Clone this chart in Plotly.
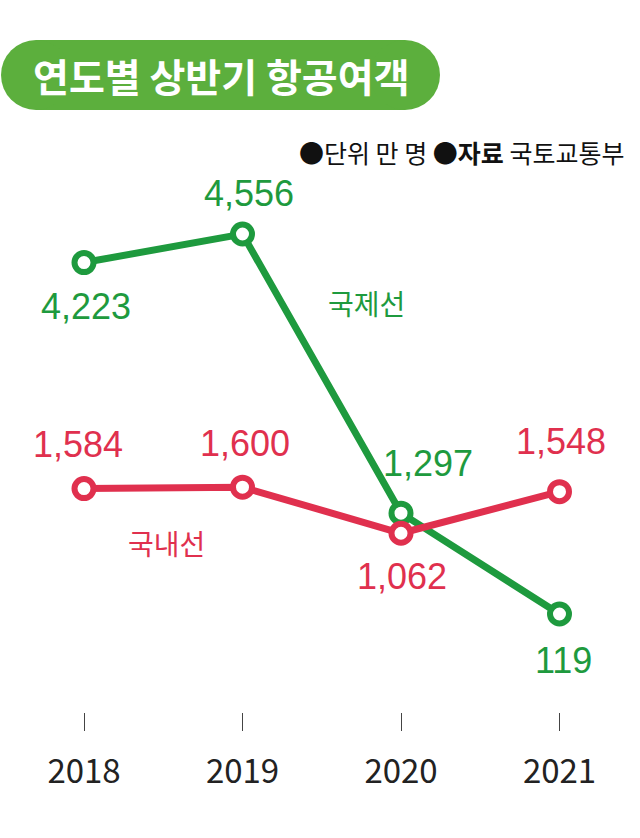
import plotly.graph_objects as go

years = ["2018", "2019", "2020", "2021"]
intl = [4223, 4556, 1297, 119]       # 국제선
dom = [1584, 1600, 1062, 1548]       # 국내선

GREEN = "#1E9A3E"
RED = "#E0304E"
TITLE_GREEN = "#5CAF3D"
NUM_FONT = "Liberation Sans"
YEAR_FONT = "Noto Sans CJK KR"
KR_FONT = "Noto Sans CJK KR"

W, H = 640, 838
T, B = 150, 126
PH = H - T - B

xs = list(range(len(years)))

fig = go.Figure()
for vals, col in [(intl, GREEN), (dom, RED)]:
    fig.add_trace(go.Scatter(
        x=xs, y=vals, mode="lines+markers",
        line=dict(color=col, width=7),
        marker=dict(size=19, color="white", line=dict(color=col, width=6)),
        hoverinfo="skip", showlegend=False, cliponaxis=False,
    ))

# value labels (offsets in pixels)
intl_off = [(2, -44), (6, 41), (27, 50), (4, -46)]
dom_off = [(-6, 44), (2, 44), (1, -43), (1, 50)]
annotations = []
for vals, offs, col in [(intl, intl_off, GREEN), (dom, dom_off, RED)]:
    for i, (v, (dx, dy)) in enumerate(zip(vals, offs)):
        annotations.append(dict(
            x=i, y=v, xref="x", yref="y", text=f"{v:,}", showarrow=False,
            xshift=dx, yshift=dy, font=dict(family=NUM_FONT, size=36, color=col),
            xanchor="center", yanchor="middle",
        ))

def py(px):
    return (H - B - px) / PH

# series labels
annotations.append(dict(x=366 / W, y=py(303), xref="paper", yref="paper", text="국제선",
                        xanchor="center", yanchor="middle",
                        showarrow=False, font=dict(family=KR_FONT, size=28, color=GREEN)))
annotations.append(dict(x=166 / W, y=py(543), xref="paper", yref="paper", text="국내선",
                        xanchor="center", yanchor="middle",
                        showarrow=False, font=dict(family=KR_FONT, size=28, color=RED)))

# title
annotations.append(dict(x=221 / W, y=py(75), xref="paper", yref="paper",
                        xanchor="center", yanchor="middle",
                        text="<b>연도별 상반기 항공여객</b>", showarrow=False,
                        font=dict(family=KR_FONT, size=39, color="white")))
# source
annotations.append(dict(x=626 / W, y=py(152), xref="paper", yref="paper",
                        xanchor="right", yanchor="middle",
                        text="●단위 만 명 ●<b>자료</b> 국토교통부", showarrow=False,
                        font=dict(family=KR_FONT, size=25, color="#111111")))

shape_common = dict(xref="paper", yref="paper", xsizemode="pixel", ysizemode="pixel",
                    xanchor=0, yanchor=1, fillcolor=TITLE_GREEN, line=dict(width=0), layer="below")
y0, y1 = T - 110, T - 40
shapes = [
    dict(type="rect", x0=36, x1=405, y0=y0, y1=y1, **shape_common),
    dict(type="circle", x0=1, x1=71, y0=y0, y1=y1, **shape_common),
    dict(type="circle", x0=370, x1=440, y0=y0, y1=y1, **shape_common),
]

x_left_px, x_step = 84, 158.5
fig.update_layout(
    width=W, height=H, margin=dict(l=0, r=0, t=T, b=B),
    paper_bgcolor="white", plot_bgcolor="white",
    annotations=annotations, shapes=shapes,
    xaxis=dict(range=[-x_left_px / x_step, (W - x_left_px) / x_step],
               tickvals=xs, ticktext=years, ticks="outside", ticklen=18, tickwidth=1,
               tickcolor="#444444", showline=False, showgrid=False, zeroline=False,
               ticklabelstandoff=12, fixedrange=True,
               tickfont=dict(family=YEAR_FONT, size=33, color="#222222")),
    yaxis=dict(range=[-1025, 5537], visible=False, fixedrange=True),
)

fig.write_html("out.html")
